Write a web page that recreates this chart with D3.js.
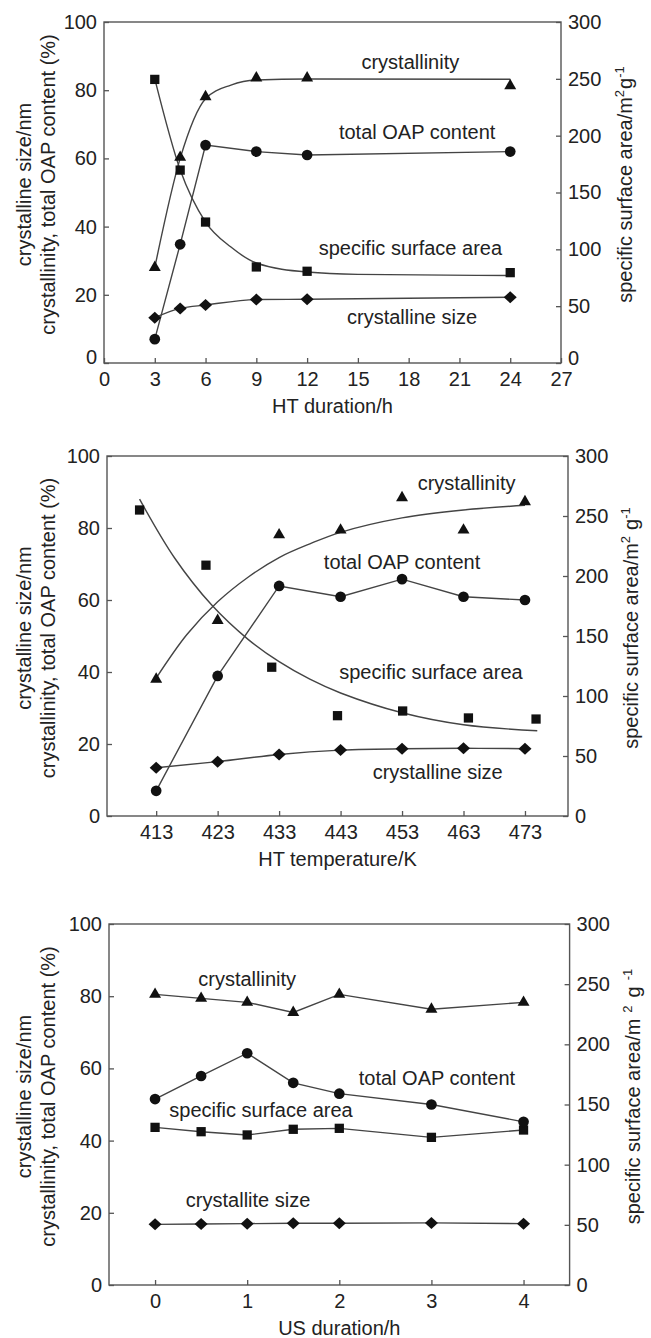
<!DOCTYPE html>
<html>
<head>
<meta charset="utf-8">
<script src="https://cdn.jsdelivr.net/npm/d3@7"></script>
<style>
  body { margin: 0; background: #fff; }
  svg text { font-family: "Liberation Sans", Arial, sans-serif; fill: #222; }
</style>
</head>
<body>
<svg id="chart" width="651" height="1338"></svg>
<script>
// ---------- (a) hydrothermal duration ----------
const htDuration        = [3, 4.5, 6, 9, 12, 24];
const durCrystallinity  = [28, 60.3, 78.1, 83.6, 83.6, 81.3];
const durOapContent     = [7, 34.8, 63.9, 62, 61, 62];
const durSurfaceArea    = [249.5, 169.7, 124, 84.5, 80.7, 79.5];
const durCrystalSize    = [13.3, 16, 17, 18.6, 18.7, 19.3];
// fitted trends
const durCrystFitX = [3, 4.5, 6, 7.5, 9, 12, 24];
const durCrystFitY = [28, 60, 77.5, 81.5, 83, 83.3, 83.2];
const durAreaFitX  = [3, 4.5, 6, 7.5, 9, 12, 15, 24];
const durAreaFitY  = [250, 170, 124, 102, 88, 80, 78, 77];
const durTicks     = [0, 3, 6, 9, 12, 15, 18, 21, 24, 27];

// ---------- (b) hydrothermal temperature ----------
const htTemperature     = [413, 423, 433, 443, 453, 463, 473];
const tempCrystallinity = [38, 54.3, 78.1, 79.4, 88.4, 79.4, 87.3];
const tempOapContent    = [7, 38.9, 63.9, 60.9, 65.8, 60.9, 60];
const tempAreaX         = [410.3, 421.1, 431.8, 442.5, 453.1, 463.8, 474.8];
const tempSurfaceArea   = [255, 209, 124, 83.6, 87.5, 81.7, 80.8];
const tempCrystalSize   = [13.4, 15.1, 17.1, 18.3, 18.7, 18.8, 18.7];
const tempCrystFitX = [413, 418, 423, 428, 433, 438, 443, 453, 463, 473];
const tempCrystFitY = [38.3, 50.4, 59.5, 66.4, 71.8, 75.6, 78.8, 82.8, 85, 86.3];
const tempAreaFitX  = [410.3, 416, 422, 428, 433, 438, 443, 453, 463, 475];
const tempAreaFitY  = [264, 215, 176, 147, 128.6, 114, 102.5, 86, 76, 71];
const tempTicks     = [413, 423, 433, 443, 453, 463, 473];

// ---------- (c) ultrasonic duration ----------
const usDuration      = [0, 0.5, 1, 1.5, 2, 3, 4];
const usCrystallinity = [80.5, 79.4, 78.3, 75.5, 80.5, 76.4, 78.3];
const usOapContent    = [51.5, 57.9, 64.2, 56, 53, 50, 45.2];
const usSurfaceArea   = [131, 127.4, 124.7, 129.4, 130.2, 122.7, 128.8];
const usCrystalSize   = [16.8, 16.9, 17, 17.1, 17.1, 17.2, 17];
const usTicks         = [0, 1, 2, 3, 4];

const leftTicks  = [0, 20, 40, 60, 80, 100];
const rightTicks = [0, 50, 100, 150, 200, 250, 300];
const leftTitle  = ["crystalline size/nm", "crystallinity, total OAP content (%)"];

const zip = (xs, ys) => xs.map((x, i) => [x, ys[i]]);

const svg = d3.select("#chart");
const INK = "#111";
const LINE = "#444";
const FRAME = "#555";
const smooth = d3.curveCatmullRom.alpha(0.5);

// marker shapes
const markerPath = {
  triangle: d3.symbol().type(d3.symbolTriangle).size(62)(),
  square:   d3.symbol().type(d3.symbolSquare).size(86)(),
  circle:   d3.symbol().type(d3.symbolCircle).size(90)(),
  diamond:  "M0,-6L6.5,0L0,6L-6.5,0Z"
};

function drawPanel(cfg) {
  const g = svg.append("g");
  const x  = d3.scaleLinear().domain(cfg.xDomain).range([cfg.left, cfg.right]);
  const yL = d3.scaleLinear().domain([0, 100]).range([cfg.bottom, cfg.top]);
  const yR = d3.scaleLinear().domain([0, 300]).range([cfg.bottom, cfg.top]);

  // axes with inward ticks
  const ax = g.append("g");
  const left = ax.append("g").attr("transform", `translate(${cfg.left},0)`)
    .call(d3.axisLeft(yL).tickValues(leftTicks).tickSize(-5).tickSizeOuter(0).tickPadding(7));
  const right = ax.append("g").attr("transform", `translate(${cfg.right},0)`)
    .call(d3.axisRight(yR).tickValues(rightTicks).tickSize(-5).tickSizeOuter(0).tickPadding(7));
  const bottom = ax.append("g").attr("transform", `translate(0,${cfg.bottom})`)
    .call(d3.axisBottom(x).tickValues(cfg.xTicks).tickFormat(d3.format("d"))
      .tickSize(-5).tickSizeOuter(0).tickPadding(8.5));
  [left, right, bottom].forEach(a => {
    a.attr("font-family", null).attr("font-size", 20);
    a.select(".domain").remove();
    a.selectAll(".tick line").attr("stroke", FRAME).attr("stroke-width", 1.3);
    a.selectAll(".tick text").attr("fill", "#222");
  });
  if (cfg.liftZero) {
    // keep the corner zeros clear of the first and last x labels
    left.selectAll(".tick text").filter(d => d === 0).attr("dy", "0.0em");
    right.selectAll(".tick text").filter(d => d === 0).attr("dy", "0.05em");
  }

  // frame
  g.append("rect")
    .attr("x", cfg.left).attr("y", cfg.top)
    .attr("width", cfg.right - cfg.left).attr("height", cfg.bottom - cfg.top)
    .attr("fill", "none").attr("stroke", FRAME).attr("stroke-width", 1.4);

  // lines
  cfg.lines.forEach(s => {
    const ys = s.axis === "right" ? yR : yL;
    const line = d3.line().x(d => x(d[0])).y(d => ys(d[1])).curve(s.curve || d3.curveLinear);
    g.append("path").attr("d", line(s.pts))
      .attr("fill", "none").attr("stroke", LINE).attr("stroke-width", 1.4);
  });

  // markers
  cfg.marks.forEach(s => {
    const ys = s.axis === "right" ? yR : yL;
    g.append("g").selectAll("path").data(s.pts).join("path")
      .attr("d", markerPath[s.shape])
      .attr("transform", d => `translate(${x(d[0])},${ys(d[1])})`)
      .attr("fill", INK);
  });

  // series labels
  cfg.labels.forEach(l => {
    g.append("text").attr("x", x(l.x)).attr("y", yL(l.y)).attr("dy", "0.35em")
      .attr("text-anchor", "middle").attr("font-size", 20).text(l.text);
  });

  // x title
  g.append("text").attr("x", (cfg.left + cfg.right) / 2).attr("y", cfg.bottom + 43)
    .attr("dy", "0.35em").attr("text-anchor", "middle").attr("font-size", 20).text(cfg.xTitle);

  // left title (two lines)
  const cy = (cfg.top + cfg.bottom) / 2 - 8;
  [30.5, 54.5].forEach((bx, i) => {
    g.append("text").attr("transform", `translate(${bx},${cy}) rotate(-90)`)
      .attr("text-anchor", "middle").attr("font-size", 20).text(leftTitle[i]);
  });

  // right title with superscripts
  const rt = g.append("text").attr("transform", `translate(${cfg.rightTitleX},${cy}) rotate(-90)`)
    .attr("text-anchor", "middle").attr("font-size", 20);
  rt.append("tspan").text("specific surface area/m");
  rt.append("tspan").attr("dx", cfg.supGap).attr("dy", -8).attr("font-size", 13).text("2");
  rt.append("tspan").attr("dx", cfg.wordGap).attr("dy", 8).text("g");
  rt.append("tspan").attr("dx", cfg.supGap).attr("dy", -8).attr("font-size", 13).text("-1");
}

drawPanel({
  top: 22, bottom: 363, left: 104, right: 561,
  xDomain: [0, 27], xTicks: durTicks, xTitle: "HT duration/h",
  rightTitleX: 632, supGap: 0, wordGap: 1, liftZero: true,
  lines: [
    { pts: zip(durCrystFitX, durCrystFitY), curve: d3.curveMonotoneX },
    { pts: zip(durAreaFitX, durAreaFitY), axis: "right", curve: d3.curveMonotoneX },
    { pts: zip(htDuration, durOapContent) },
    { pts: zip(htDuration, durCrystalSize), curve: d3.curveMonotoneX }
  ],
  marks: [
    { pts: zip(htDuration, durCrystallinity), shape: "triangle" },
    { pts: zip(htDuration, durSurfaceArea), shape: "square", axis: "right" },
    { pts: zip(htDuration, durOapContent), shape: "circle" },
    { pts: zip(htDuration, durCrystalSize), shape: "diamond" }
  ],
  labels: [
    { text: "crystallinity", x: 18.1, y: 88.3 },
    { text: "total OAP content", x: 18.5, y: 67.7 },
    { text: "specific surface area", x: 18.1, y: 33.7 },
    { text: "crystalline size", x: 18.2, y: 13.4 }
  ]
});

drawPanel({
  top: 456, bottom: 816, left: 107, right: 568,
  xDomain: [405, 480], xTicks: tempTicks, xTitle: "HT temperature/K",
  rightTitleX: 638, supGap: 0, wordGap: 6,
  lines: [
    { pts: zip(tempCrystFitX, tempCrystFitY), curve: smooth },
    { pts: zip(tempAreaFitX, tempAreaFitY), axis: "right", curve: smooth },
    { pts: zip(htTemperature, tempOapContent) },
    { pts: zip(htTemperature, tempCrystalSize), curve: d3.curveMonotoneX }
  ],
  marks: [
    { pts: zip(htTemperature, tempCrystallinity), shape: "triangle" },
    { pts: zip(tempAreaX, tempSurfaceArea), shape: "square", axis: "right" },
    { pts: zip(htTemperature, tempOapContent), shape: "circle" },
    { pts: zip(htTemperature, tempCrystalSize), shape: "diamond" }
  ],
  labels: [
    { text: "crystallinity", x: 463.5, y: 92.5 },
    { text: "total OAP content", x: 453, y: 70.6 },
    { text: "specific surface area", x: 457.7, y: 40 },
    { text: "crystalline size", x: 458.8, y: 12.3 }
  ]
});

drawPanel({
  top: 924, bottom: 1285, left: 109, right: 569.6,
  xDomain: [-0.5, 4.5], xTicks: usTicks, xTitle: "US duration/h",
  rightTitleX: 640, supGap: 6, wordGap: 8,
  lines: [
    { pts: zip(usDuration, usCrystallinity) },
    { pts: zip(usDuration, usSurfaceArea), axis: "right" },
    { pts: zip(usDuration, usOapContent) },
    { pts: zip(usDuration, usCrystalSize) }
  ],
  marks: [
    { pts: zip(usDuration, usCrystallinity), shape: "triangle" },
    { pts: zip(usDuration, usSurfaceArea), shape: "square", axis: "right" },
    { pts: zip(usDuration, usOapContent), shape: "circle" },
    { pts: zip(usDuration, usCrystalSize), shape: "diamond" }
  ],
  labels: [
    { text: "crystallinity", x: 1.0, y: 84.8 },
    { text: "total OAP content", x: 3.06, y: 57.4 },
    { text: "specific surface area", x: 1.15, y: 48.5 },
    { text: "crystallite size", x: 1.01, y: 23.5 }
  ]
});
</script>
</body>
</html>
